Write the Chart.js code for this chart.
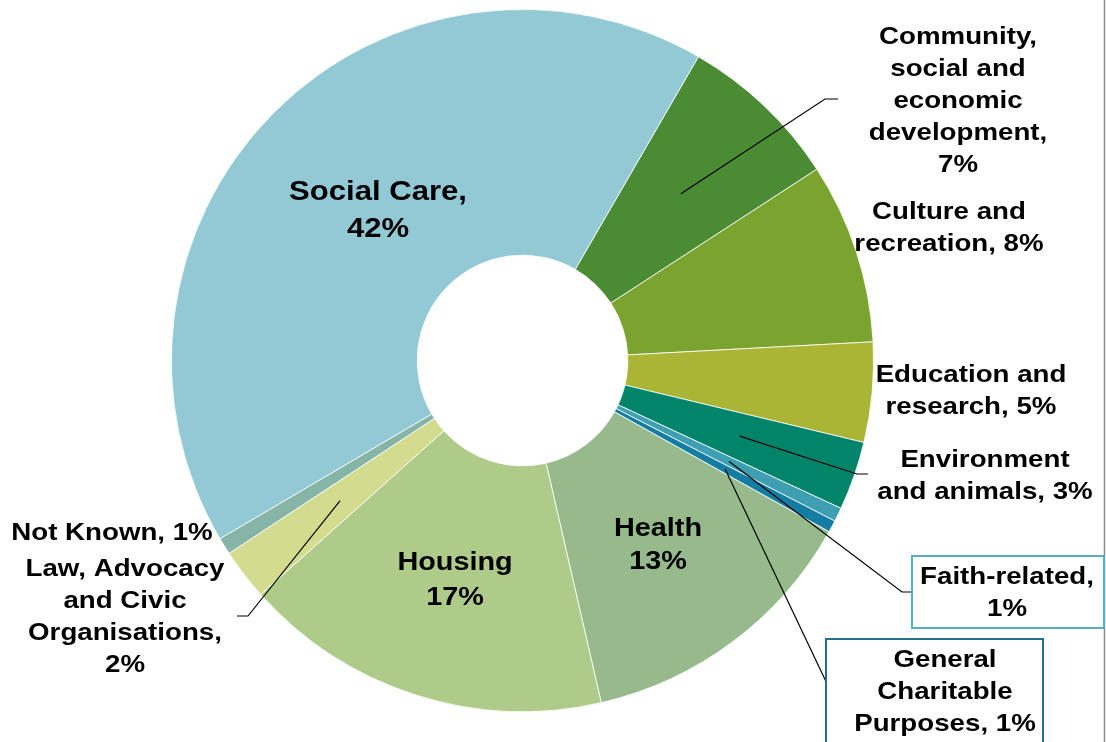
<!DOCTYPE html>
<html>
<head>
<meta charset="utf-8">
<script src="https://cdn.jsdelivr.net/npm/chart.js@4"></script>
<style>
  html, body { margin: 0; padding: 0; background: #ffffff; }
  #wrap { width: 1106px; height: 742px; position: relative; }
</style>
</head>
<body>
<div id="wrap"><canvas id="donut" width="1106" height="742"></canvas></div>
<script>
// categories, clockwise from the Social Care / Community boundary
const categories = [
    "Community, social and economic development",
    "Culture and recreation",
    "Education and research",
    "Environment and animals",
    "Faith-related",
    "General Charitable Purposes",
    "Health",
    "Housing",
    "Law, Advocacy and Civic Organisations",
    "Not Known",
    "Social Care"
];
// share of total (%)
const shares = [7.48, 8.33, 4.6, 3.17, 0.64, 0.55, 13.3, 17.0, 2.36, 0.78, 41.85];
const colours = ["#4a8b33", "#7ba32f", "#abb535", "#01846a", "#3f9fb2", "#137da3",
                 "#96ba8c", "#afcb8a", "#d3dc8e", "#86b4a6", "#92c9d4"];

// label text per slice ({p} = rounded percent) and where it sits
const labelLayout = [
    { text: "Community,\nsocial and\neconomic\ndevelopment,\n{p}", x: 958, y: 37, lead: [[825, 99], [838, 99]] },
    { text: "Culture and\nrecreation, {p}", x: 949, y: 212 },
    { text: "Education and\nresearch, {p}", x: 971, y: 375 },
    { text: "Environment\nand animals, {p}", x: 985, y: 460, lead: [[857, 474], [868, 474]] },
    { text: "Faith-related,\n{p}", x: 1007, y: 577, lead: [[902, 592], [912, 592]],
      box: { x: 912, y: 556, w: 192, h: 72, color: "#4fb3c4" } },
    { text: "General\nCharitable\nPurposes, {p}", x: 945, y: 660, lead: [[830, 690]],
      box: { x: 826, y: 639, w: 217, h: 110, color: "#22708a" } },
    { text: "Health\n{p}", x: 658, y: 529, size: 25.5, gap: 33 },
    { text: "Housing\n{p}", x: 455, y: 563, size: 25.5, gap: 35 },
    { text: "Law, Advocacy\nand Civic\nOrganisations,\n{p}", x: 125, y: 569, lead: [[248, 616], [237, 616]] },
    { text: "Not Known, {p}", x: 112, y: 533 },
    { text: "Social Care,\n{p}", x: 378, y: 192, size: 27.5, gap: 37 }
];

const labelPlugin = {
    id: "sliceLabels",
    afterDraw(chart) {
        const ctx = chart.ctx;
        const arcs = chart.getDatasetMeta(0).data;
        ctx.save();
        // frame edge on the right
        ctx.strokeStyle = "#8c8c8c";
        ctx.lineWidth = 1.5;
        ctx.beginPath();
        ctx.moveTo(1104.5, 0);
        ctx.lineTo(1104.5, 742);
        ctx.stroke();

        labelLayout.forEach((lab, i) => {
            const arc = arcs[i];
            if (lab.lead) {
                const mid = (arc.startAngle + arc.endAngle) / 2;
                const r = 230;
                ctx.strokeStyle = "#000000";
                ctx.lineWidth = 1.2;
                ctx.beginPath();
                ctx.moveTo(arc.x + Math.cos(mid) * r, arc.y + Math.sin(mid) * r);
                lab.lead.forEach(p => ctx.lineTo(p[0], p[1]));
                ctx.stroke();
            }
            if (lab.box) {
                ctx.fillStyle = "#ffffff";
                ctx.fillRect(lab.box.x, lab.box.y, lab.box.w, lab.box.h);
                ctx.strokeStyle = lab.box.color;
                ctx.lineWidth = 2;
                ctx.strokeRect(lab.box.x, lab.box.y, lab.box.w, lab.box.h);
            }
            const pct = Math.round(shares[i]) + "%";
            const lines = lab.text.replace("{p}", pct).split("\n");
            const size = lab.size || 24.5;
            const gap = lab.gap || 32;
            ctx.fillStyle = "#000000";
            ctx.font = "bold " + size + "px 'Liberation Sans', Arial, sans-serif";
            ctx.textAlign = "center";
            ctx.textBaseline = "middle";
            lines.forEach((line, k) => {
                ctx.save();
                ctx.translate(lab.x, lab.y + k * gap);
                ctx.scale(1.13, 1);
                ctx.fillText(line, 0, 0);
                ctx.restore();
            });
        });
        ctx.restore();
    }
};

new Chart(document.getElementById("donut"), {
    type: "doughnut",
    data: {
        labels: categories,
        datasets: [{
            data: shares,
            backgroundColor: colours,
            borderColor: "#ffffff",
            borderWidth: 0.8
        }]
    },
    options: {
        responsive: false,
        animation: false,
        rotation: 30.07,
        cutout: "30%",
        layout: { padding: { left: 171, right: 232, top: 9, bottom: 30 } },
        plugins: {
            legend: { display: false },
            tooltip: { enabled: false }
        }
    },
    plugins: [labelPlugin]
});
</script>
</body>
</html>
